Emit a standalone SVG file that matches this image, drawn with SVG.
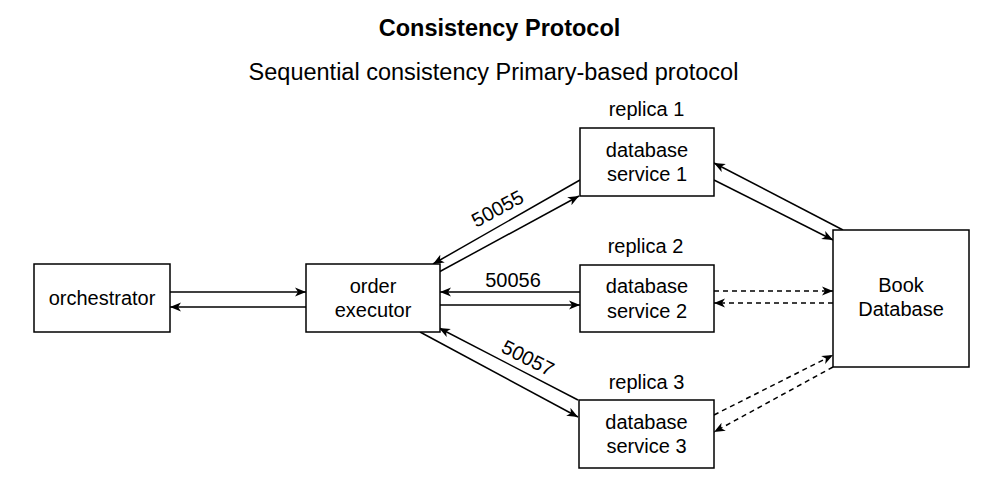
<svg xmlns="http://www.w3.org/2000/svg" width="998" height="502" viewBox="0 0 998 502">
<style>
.box{fill:#fff;stroke:#000;stroke-width:1.5}
.t{font-family:"Liberation Sans",Arial,sans-serif;font-size:20px;fill:#000;text-anchor:middle}
.c{fill:none;stroke:#000;stroke-width:1.5}
.d{stroke-dasharray:5 4}
</style>
<defs>
<marker id="a" viewBox="0 0 12 10" refX="11" refY="5" markerWidth="12" markerHeight="10" markerUnits="userSpaceOnUse" orient="auto">
<path d="M0,0.5 L11,5 L0,9.5 L3,5 Z" fill="#000"/>
</marker>
</defs>
<rect width="998" height="502" fill="#fff"/>
<text class="t" x="499.5" y="36" style="font-weight:bold;font-size:23.5px">Consistency Protocol</text>
<text class="t" x="493.5" y="80" style="font-size:23.5px">Sequential consistency Primary-based protocol</text>
<g id="connectors">
<path class="c" d="M170,292 L306,292" marker-end="url(#a)"/>
<path class="c" d="M306,307 L170,307" marker-end="url(#a)"/>
<path class="c" d="M580,180 L433,264" marker-end="url(#a)"/>
<path class="c" d="M439,272 L579,196" marker-end="url(#a)"/>
<path class="c" d="M580,292 L440,292" marker-end="url(#a)"/>
<path class="c" d="M440,305 L580,305" marker-end="url(#a)"/>
<path class="c" d="M420,332 L578,417" marker-end="url(#a)"/>
<path class="c" d="M578,400 L439,328" marker-end="url(#a)"/>
<path class="c" d="M843,230 L714,163" marker-end="url(#a)"/>
<path class="c" d="M714,180 L833,240" marker-end="url(#a)"/>
<path class="c d" d="M714,291 L833,291" marker-end="url(#a)"/>
<path class="c d" d="M833,303 L714,303" marker-end="url(#a)"/>
<path class="c d" d="M714,415 L833,355" marker-end="url(#a)"/>
<path class="c d" d="M833,367 L714,432" marker-end="url(#a)"/>
<text class="t" transform="translate(497.5,208.5) rotate(-28.4)" y="7">50055</text>
<text class="t" x="513" y="287">50056</text>
<text class="t" transform="translate(528,358) rotate(27)" y="7">50057</text>
</g>
<g id="orchestrator">
<rect class="box" x="34" y="264" width="136" height="68"/>
<text class="t" x="102" y="305">orchestrator</text>
</g>
<g id="order-executor">
<rect class="box" x="306" y="264" width="134" height="68"/>
<text class="t" x="373" y="293">order</text>
<text class="t" x="373" y="317">executor</text>
</g>
<g id="db1">
<text class="t" x="646.5" y="116">replica 1</text>
<rect class="box" x="580" y="128" width="134" height="68"/>
<text class="t" x="647" y="157">database</text>
<text class="t" x="647" y="181">service 1</text>
</g>
<g id="db2">
<text class="t" x="645.5" y="253">replica 2</text>
<rect class="box" x="580" y="265" width="134" height="67"/>
<text class="t" x="647" y="293">database</text>
<text class="t" x="647" y="318">service 2</text>
</g>
<g id="db3">
<text class="t" x="646.5" y="389">replica 3</text>
<rect class="box" x="579" y="400" width="135" height="68"/>
<text class="t" x="646.5" y="429">database</text>
<text class="t" x="646.5" y="453">service 3</text>
</g>
<g id="book-db">
<rect class="box" x="833" y="230" width="136" height="137"/>
<text class="t" x="901" y="292">Book</text>
<text class="t" x="901" y="316">Database</text>
</g>
</svg>
